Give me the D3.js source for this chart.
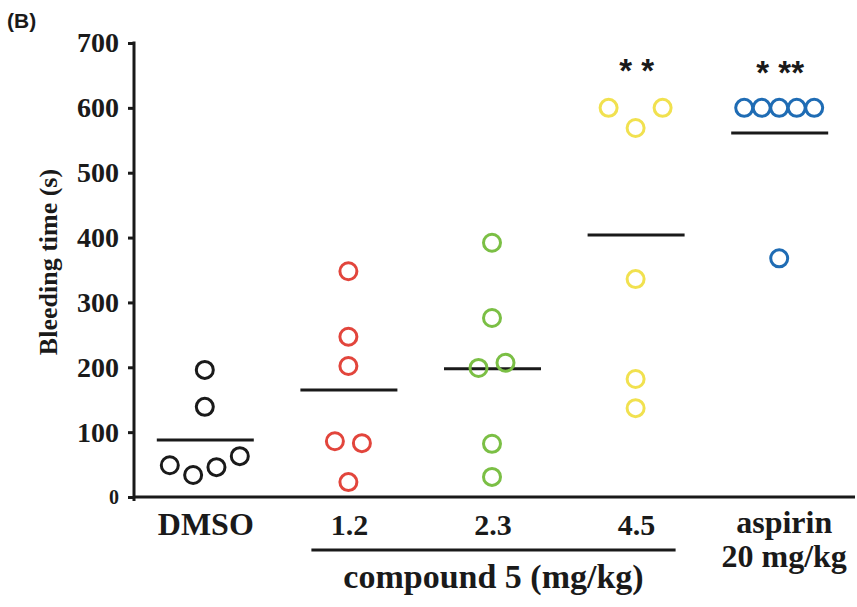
<!DOCTYPE html>
<html>
<head>
<meta charset="utf-8">
<script src="https://cdn.jsdelivr.net/npm/d3@7"></script>
<style>
  html, body { margin: 0; padding: 0; background: #fff; }
  svg { display: block; }
</style>
</head>
<body>
<svg id="chart" width="857" height="607"></svg>
<script>
// ---- data ----
const categories = ["DMSO", "1.2", "2.3", "4.5", "aspirin"];
const dmsoValues    = [196, 139, 49, 34, 46, 63];
const dose12Values  = [348, 247, 202, 86, 83, 23];
const dose23Values  = [392, 276, 199, 207, 82, 31];
const dose45Values  = [600, 569, 600, 336, 182, 137];
const aspirinValues = [600, 600, 600, 600, 600, 368];
const yTicks = [0, 100, 200, 300, 400, 500, 600, 700];
const significance = [["4.5", "* *"], ["aspirin", "* **"]];
const xLabelLines = {
  "DMSO": ["DMSO"], "1.2": ["1.2"], "2.3": ["2.3"], "4.5": ["4.5"],
  "aspirin": ["aspirin", "20 mg/kg"]
};
const compoundLabel = "compound 5 (mg/kg)";
const compoundGroups = ["1.2", "2.3", "4.5"];
const yTitle = "Bleeding time (s)";
const panelLabel = "(B)";

const groupValues = [dmsoValues, dose12Values, dose23Values, dose45Values, aspirinValues];
const colors = ["#1a1a1a", "#e2453c", "#7bbf45", "#f1e14f", "#1f6cb4"];

// ---- layout ----
const svg = d3.select("#chart");
const x = d3.scalePoint().domain(categories).range([133, 851]).padding(0.5);
const y = d3.scaleLinear().domain([0, 700]).range([497, 43]);
const serif = "'Liberation Serif', 'Times New Roman', serif";
const sans = "'Liberation Sans', Arial, sans-serif";

// horizontal spreading of close values (single linkage clustering)
function offsets(vals) {
  const idx = vals.map((v, i) => i).sort((a, b) => vals[a] - vals[b]);
  const clusters = [];
  let cur = [idx[0]];
  for (let k = 1; k < idx.length; k++) {
    if (vals[idx[k]] - vals[idx[k - 1]] < 40) cur.push(idx[k]);
    else { clusters.push(cur); cur = [idx[k]]; }
  }
  clusters.push(cur);
  const off = new Array(vals.length).fill(0);
  clusters.forEach(c => {
    c.sort((a, b) => a - b);
    const n = c.length;
    if (n < 2) return;
    const sp = Math.min(27, 70 / (n - 1));
    c.forEach((i, j) => { off[i] = (j - (n - 1) / 2) * sp; });
  });
  return off;
}

// y axis
const yAxis = d3.axisLeft(y).tickValues(yTicks).tickSize(6).tickSizeOuter(0).tickPadding(9)
  .tickFormat(d3.format("d"));
const gy = svg.append("g").attr("transform", "translate(134,0)").call(yAxis);
gy.select(".domain").remove();
gy.selectAll(".tick line").attr("stroke", "#1a1a1a").attr("stroke-width", 3);
gy.selectAll(".tick text")
  .attr("font-family", serif).attr("font-weight", "bold")
  .attr("font-size", d => d === 0 ? 20 : 28).attr("fill", "#1a1a1a");
svg.append("line").attr("x1", 134).attr("x2", 134).attr("y1", y(700) - 1.5).attr("y2", y(0) + 4)
  .attr("stroke", "#1a1a1a").attr("stroke-width", 3);
// x axis line
svg.append("line").attr("x1", 133).attr("x2", 855).attr("y1", y(0)).attr("y2", y(0))
  .attr("stroke", "#1a1a1a").attr("stroke-width", 3);

// y title
svg.append("text")
  .attr("transform", `translate(57,262) rotate(-90)`)
  .attr("text-anchor", "middle")
  .attr("font-family", serif).attr("font-weight", "bold").attr("font-size", 26)
  .attr("fill", "#1a1a1a").text(yTitle);

// panel label
svg.append("text").attr("x", 7).attr("y", 28)
  .attr("font-family", sans).attr("font-weight", "bold").attr("font-size", 21)
  .attr("fill", "#1a1a1a").text(panelLabel);

// points and means
categories.forEach((cat, gi) => {
  const vals = groupValues[gi];
  const off = offsets(vals);
  const g = svg.append("g");
  const m = d3.mean(vals);
  g.append("line").attr("x1", x(cat) - 48).attr("x2", x(cat) + 49)
    .attr("y1", y(m)).attr("y2", y(m)).attr("stroke", "#1a1a1a").attr("stroke-width", 3);
  g.selectAll("circle").data(vals).join("circle")
    .attr("cx", (d, i) => x(cat) + off[i])
    .attr("cy", d => y(d))
    .attr("r", 8.5)
    .attr("fill", "none")
    .attr("stroke", colors[gi])
    .attr("stroke-width", 3);
});

// significance
significance.forEach(([cat, label], i) => {
  svg.append("text").attr("x", x(cat) + 1).attr("y", y(640) + i * 2)
    .attr("text-anchor", "middle")
    .attr("font-family", sans).attr("font-weight", "bold").attr("font-size", 33)
    .attr("fill", "#1a1a1a").text(label);
});

// x labels (multi-line labels as separate text elements)
categories.forEach(cat => {
  const lines = xLabelLines[cat];
  const isNum = !isNaN(+cat);
  lines.forEach((ln, k) => {
    svg.append("text").attr("text-anchor", "middle")
      .attr("font-family", serif).attr("font-weight", "bold").attr("font-size", isNum ? 30 : 32)
      .attr("fill", "#1a1a1a")
      .attr("x", x(cat) + (lines.length > 1 ? 5 : 1))
      .attr("y", (lines.length > 1 ? 533 : 535) + k * 34)
      .text(ln);
  });
});

// compound underline + label
const ux1 = x(compoundGroups[0]) - 37, ux2 = x(compoundGroups[compoundGroups.length - 1]) + 40;
svg.append("line").attr("x1", ux1).attr("x2", ux2).attr("y1", 550).attr("y2", 550)
  .attr("stroke", "#1a1a1a").attr("stroke-width", 3);
svg.append("text").attr("x", (ux1 + ux2) / 2).attr("y", 588)
  .attr("text-anchor", "middle")
  .attr("font-family", serif).attr("font-weight", "bold").attr("font-size", 34)
  .attr("fill", "#1a1a1a").text(compoundLabel);
</script>
</body>
</html>
